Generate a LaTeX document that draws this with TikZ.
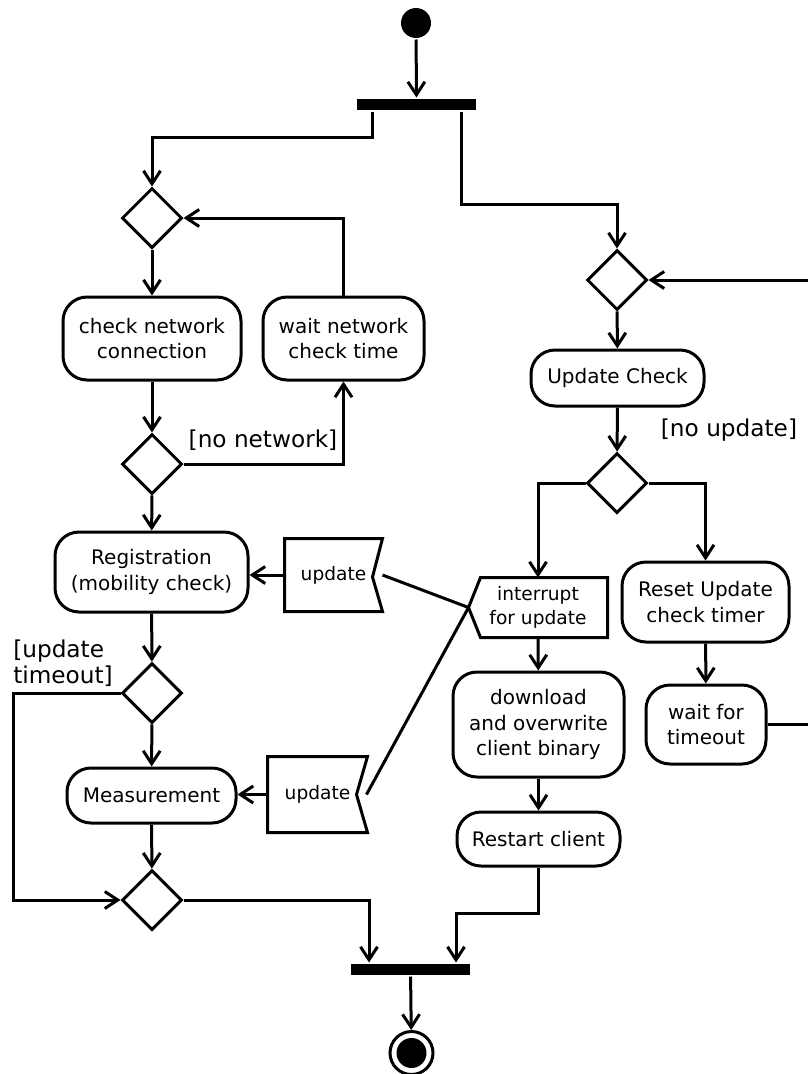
\documentclass[tikz,border=0pt]{standalone}
\usepackage{fontspec}
\setmainfont{DejaVu Sans}
\usetikzlibrary{arrows.meta,shapes.geometric,calc}

\tikzset{
  every path/.style={line width=3pt},
  arr/.style={-{Straight Barb[length=13pt,width=17pt]}},
  action/.style={draw, rectangle, rounded corners=24pt, align=center, inner sep=0pt,
    font=\fontsize{20}{25.5}\selectfont},
  decision/.style={draw, diamond, minimum width=60pt, minimum height=60pt, inner sep=0pt},
  bar/.style={fill=black, draw=none, rectangle, inner sep=0pt},
  sigtext/.style={rectangle, inner sep=0pt, align=center,
    font=\fontsize{18.6}{24}\selectfont},
  guard/.style={inner sep=0pt, align=left, font=\fontsize{23.2}{26}\selectfont},
}

\begin{document}
\begin{tikzpicture}[x=1pt,y=-1pt]
\useasboundingbox (0,0) rectangle (808,1074);

% initial node and fork
\node[circle, fill=black, minimum size=30pt, inner sep=0pt] (start) at (416,23) {};
\node[bar, minimum width=119pt, minimum height=11pt] (fork) at (416.5,104.5) {};

% network branch
\node[decision] (d1) at (152,218) {};
\node[action, minimum width=178pt, minimum height=83pt] (chk) at (152,338.5) {check network\\connection};
\node[action, minimum width=161pt, minimum height=83pt] (wnc) at (343.5,338.5) {wait network\\check time};
\node[decision] (d2) at (152,464) {};
\node[guard] (lnn) at (263,440) {[no network]};
\node[action, minimum width=193pt, minimum height=80pt] (reg) at (151.5,572) {Registration\\(mobility check)};
\node[decision] (d3) at (152,693) {};
\node[guard] (lut) at (63,663) {[update\\timeout]};
\coordinate (lp) at (13,0);
\node[action, minimum width=169pt, minimum height=55pt] (meas) at (151.5,795.5) {Measurement};
\node[decision] (d4) at (152,900) {};

% update signals
\node[sigtext, minimum width=95pt, minimum height=70pt] (u1) at (333.5,575) {update};
\draw (u1.north west) -- (u1.north east) -- ($(u1.east)+(-10,2)$) -- (u1.south east) -- (u1.south west) -- cycle;
\node[sigtext, minimum width=97pt, minimum height=73pt] (u2) at (317.5,794.5) {update};
\draw (u2.north west) -- (u2.north east) -- ($(u2.east)+(-11,0)$) -- (u2.south east) -- (u2.south west) -- cycle;

% update branch
\node[decision] (d5) at (617,280) {};
\node[action, minimum width=173pt, minimum height=56pt] (uc) at (617.5,378) {Update Check};
\node[guard] (lnu) at (729,430) {[no update]};
\node[decision] (d6) at (617,483) {};
\node[sigtext, minimum width=136pt, minimum height=57pt] (int) at (538,607.5) {interrupt\\for update};
\draw (int.west) -- ($(int.north west)+(12,0)$) -- (int.north east) -- (int.south east) -- ($(int.south west)+(12,0)$) -- cycle;
\node[action, minimum width=167pt, minimum height=80pt] (rst) at (705.5,602) {Reset Update\\check timer};
\node[action, minimum width=120pt, minimum height=79pt] (wft) at (706,724.5) {wait for\\timeout};
\node[action, minimum width=171pt, minimum height=105pt] (dl) at (538.5,724.5) {download\\and overwrite\\client binary};
\node[action, minimum width=163pt, minimum height=54pt] (rc) at (538.5,839) {Restart client};

% join and final node
\node[bar, minimum width=119pt, minimum height=11pt] (join) at (410.5,969.5) {};
\node[circle, draw, minimum size=43pt, inner sep=0pt] (fin) at (411.5,1053) {};
\node[circle, fill=black, minimum size=30pt, inner sep=0pt] at (fin) {};

% control flow
\draw[arr] (start) -- (fork);
\draw[arr] ([xshift=-44.5pt]fork.south) -- ++(0,26) -| (d1.north);
\draw[arr] ([xshift=44.5pt]fork.south) -- ++(0,93) -| (d5.north);

\draw[arr] (d1) -- (chk);
\draw[arr] (wnc.north) |- (d1.east);
\draw[arr] (chk) -- (d2);
\draw[arr] (d2.east) -| (wnc.south);
\draw[arr] (d2) -- (reg);
\draw[arr] (u1.west) -- (u1.west -| reg.east);
\draw[arr] (reg) -- (d3);
\draw[arr] (d3.west) -- (d3.west -| lp) |- (d4.west);
\draw[arr] (d3) -- (meas);
\draw[arr] (u2.west) -- (u2.west -| meas.east);
\draw[arr] (meas) -- (d4);
\draw[arr] (d4.east) -| ([xshift=-41.5pt]join.north);

\draw[arr] (wft.east) -- ++(60,0) |- (d5.east);
\draw[arr] (d5) -- (uc);
\draw[arr] (uc) -- (d6);
\draw[arr] (d6.west) -| (int.north);
\draw[arr] (d6.east) -| (rst.north);
\draw[arr] (rst) -- (wft);
\draw[arr] (int) -- (dl);
\draw[arr] (dl) -- (rc);
\draw[arr] (rc.south) -- ++(0,46) -| ([xshift=45.5pt]join.north);
\draw[arr] (join) -- (fin);

% signal links
\draw (u1.east) -- (int.west);
\draw ($(u2.east)+(-1,0)$) -- (int.west);
\end{tikzpicture}
\end{document}
